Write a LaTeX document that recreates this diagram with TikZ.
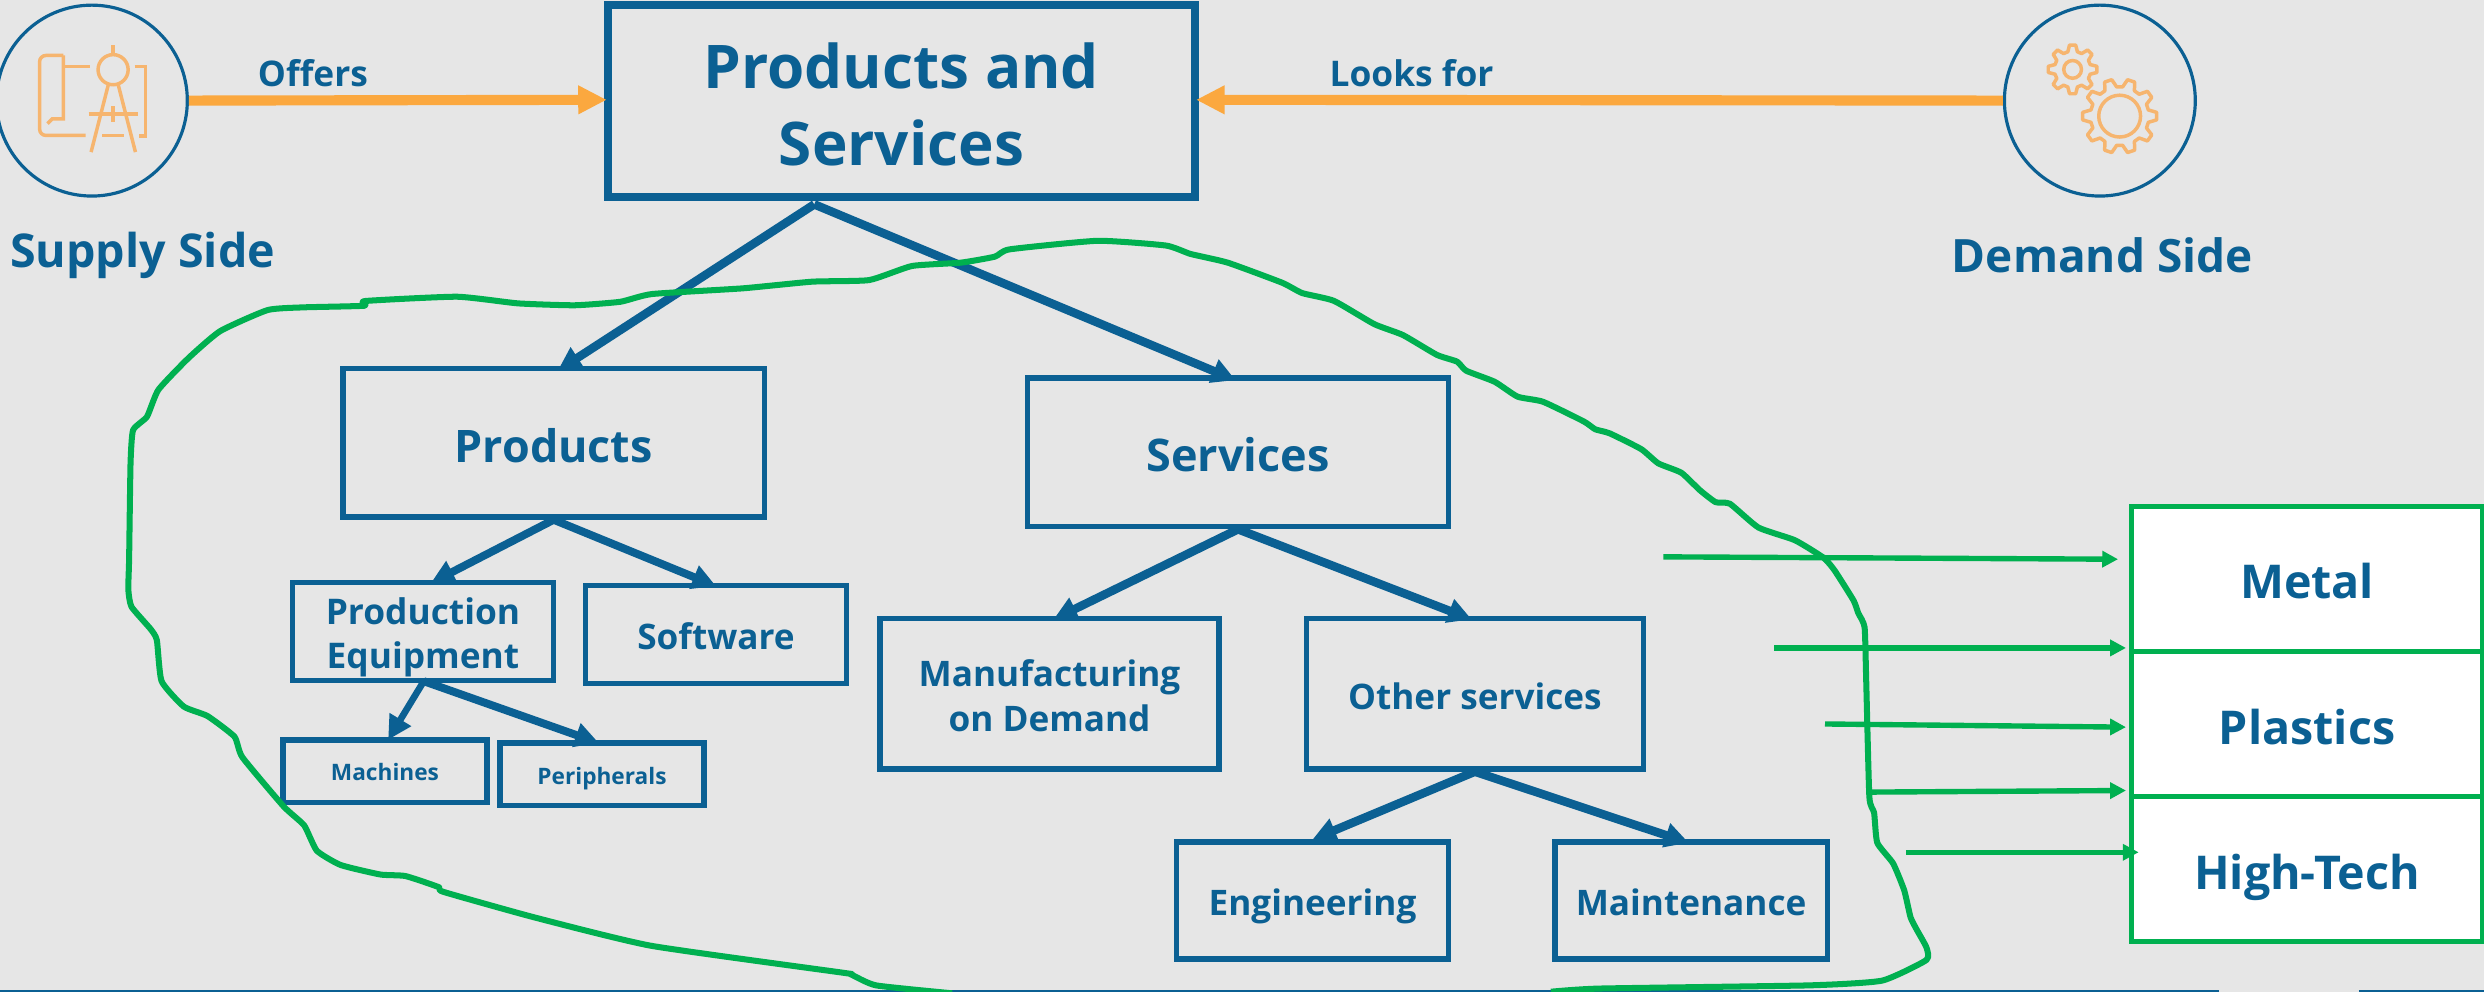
\documentclass[tikz,border=0pt]{standalone}
\usepackage{fontspec}
\setmainfont{Open Sans}
\usetikzlibrary{arrows.meta}
\definecolor{bg}{HTML}{E6E6E6}
\definecolor{navy}{HTML}{0B6093}
\definecolor{grn}{HTML}{00B050}
\definecolor{org}{HTML}{FBA83F}
\definecolor{pale}{HTML}{F6B56F}
\tikzset{
  x=1pt,y=-1pt,
  box/.style={draw=navy,line width=3.4pt,text=navy,align=center,inner sep=0pt},
  gbox/.style={draw=grn,line width=3.4pt,fill=white,text=navy,font=\bfseries\fontsize{29.4}{34}\selectfont,inner sep=0pt,minimum width=222pt,minimum height=91.6pt,anchor=center},
  lbl/.style={text=navy,inner sep=0pt,align=center},
  conn/.style={draw=navy,line width=#1,-{Triangle[length=15pt,width=15pt]}},
  oarr/.style={draw=org,line width=6.4pt,-{Triangle[length=18pt,width=17pt]}},
  garr/.style={draw=grn,line width=3.4pt,-{Triangle[length=10pt,width=10pt]}},
  circ/.style={draw=navy,line width=2pt,circle,minimum size=120.5pt,inner sep=0pt},
  ic/.style={draw=pale,line width=2.2pt},
  curve/.style={draw=grn,line width=3.8pt,line join=round}
}
% name, x1,y1,x2,y2, font size, baseline skip, text
\newcommand{\dn}{\rule{0pt}{.87em}}
\newcommand{\bx}[8]{\node[box,font=\bfseries\fontsize{#6}{#7}\selectfont,minimum width=#4pt-#2pt-1.2pt,minimum height=#5pt-#3pt-1.2pt] (#1) at ({(#2+#4)/2},{(#3+#5)/2}) {\dn#8};}
\newcommand{\nd}[1]{\raisebox{0pt}[\height][0pt]{#1}}
\begin{document}
\begin{tikzpicture}
\useasboundingbox (0,0) rectangle (1568,626);
\clip (0,0) rectangle (1568,626);
\fill[bg] (0,0) rectangle (1568,626);
% bottom edge
\draw[navy,line width=1pt] (0,625.5) -- (1401,625.5);
\draw[navy,line width=1pt] (1489,625.5) -- (1568,625.5);
% circles
\node[circ] (sup) at (58,63.5) {};
\node[circ] (dem) at (1325.5,63.5) {};
% supply icon
\draw[ic,rounded corners=4pt] (40,35) -- (25,35) -- (25,85.5) -- (54,85.5);
\draw[ic] (40,35) -- (40,75) -- (33,75) -- (30,78);
\draw[ic] (40,42) -- (57,42);
\draw[ic] (85,42) -- (92,42) -- (92,86) -- (88,86);
\draw[ic] (64.5,85.5) -- (78,85.5);
\draw[ic] (71.4,44) circle (9.5);
\draw[ic] (71.4,28.5) -- (71.4,35);
\draw[ic] (68.5,53) -- (57.5,96);
\draw[ic] (74.5,53) -- (85.5,96);
\draw[ic] (56,72) -- (87,72);
\draw[ic] (71.4,67) -- (71.4,77);
% gears
\foreach \cx/\cy/\R/\rr/\N/\hole in {1308.3/43.8/15.5/11.5/8/5.6, 1338/73.3/23.5/18.5/10/13.2}{
  \pgfmathsetmacro{\st}{360/\N}
  \draw[ic,line join=round] ({\cx+\R*cos(-.16*\st)},{\cy+\R*sin(-.16*\st)})
    \foreach \k in {1,...,\N}{
      -- ({\cx+\R*cos((\k-1+.16)*\st)},{\cy+\R*sin((\k-1+.16)*\st)})
      -- ({\cx+\rr*cos((\k-1+.34)*\st)},{\cy+\rr*sin((\k-1+.34)*\st)})
      -- ({\cx+\rr*cos((\k-1+.66)*\st)},{\cy+\rr*sin((\k-1+.66)*\st)})
      -- ({\cx+\R*cos((\k-1+.84)*\st)},{\cy+\R*sin((\k-1+.84)*\st)})
    } -- cycle;
  \draw[ic] (\cx,\cy) circle (\hole);
}
% main
\node[box,line width=5pt,minimum width=371pt,minimum height=121.4pt,font=\bfseries\fontsize{38}{49}\selectfont] (main) at (569,63.8) {\dn Products and\\Services};
% boxes
\bx{prod}{216}{232}{483}{327}{28.3}{34}{Products}
\bx{serv}{648}{238}{915}{333}{28.4}{34}{Services}
\bx{pe}{184}{367}{350}{430}{22.3}{28}{Production\\\nd{Equipment}}
\bx{soft}{369}{369}{535}{432}{22.2}{28}{Software}
\bx{mfg}{555}{390}{770}{486}{22.2}{29}{\nd{Manufacturing}\\on Demand}
\bx{other}{824}{390}{1038}{486}{22.2}{28}{Other services}
\bx{mach}{178}{466.5}{308}{507}{14.3}{18}{Machines}
\bx{peri}{315}{468.5}{445}{509}{14.3}{18}{\nd{Peripherals}}
\bx{eng}{742}{531}{915}{606}{22.2}{28}{\nd{Engineering}}
\bx{maint}{981}{531}{1154}{606}{22.2}{28}{Maintenance}
% green boxes
\node[gbox] (metal) at (1456.3,365.4) {\dn Metal};
\node[gbox] (plas) at (1456.3,457) {\dn Plastics};
\node[gbox] (tech) at (1456.3,548.6) {\dn\nd{High-Tech}};
% labels
\node[lbl,font=\bfseries\fontsize{22.3}{26}\selectfont] (off) at (197.5,46) {Offers};
\node[lbl,font=\bfseries\fontsize{22.3}{26}\selectfont] (look) at (891,46) {Looks for};
\node[lbl,font=\bfseries\fontsize{29.4}{34}\selectfont] (sups) at (90,158) {\nd{Supply Side}};
\node[lbl,font=\bfseries\fontsize{29}{34}\selectfont] (dems) at (1327,161) {Demand Side};
% orange arrows
\coordinate (ml) at (383,63);
\coordinate (mr) at (755,63);
\draw[oarr] (sup.east) -- (ml);
\draw[oarr] (dem.west) -- (mr);
% tree connectors
\coordinate (m0) at (514,129);
\coordinate (pt) at (352,234);
\coordinate (st) at (780,240);
\draw[conn=5.4pt] (m0) -- (pt);
\draw[conn=5.4pt] (m0) -- (st);
\draw[conn=5pt] (prod.south) -- (272,368);
\draw[conn=5pt] (prod.south) -- (452,370);
\draw[conn=5.4pt] (serv.south) -- (665,391);
\draw[conn=5.4pt] (serv.south) -- (929,391);
\draw[conn=5.4pt] (other.south) -- (eng.north);
\draw[conn=5.4pt] (other.south) -- (1066,532);
\coordinate (pe0) at (267.5,430);
\draw[conn=4.2pt] (pe0) -- (245,467);
\draw[conn=5pt] (pe0) -- (378,469);
% green curve
\draw[curve] plot[smooth,tension=.3] coordinates {
(601,627)(553,622)(537,615)(532,614)(411,597)(337,579)(280,563)(277,560)(256,553)(240,552)(215,546)(200,537)(192,521)(179,509)(153,478)(148,465)(131,452)(116,446)(102,430)(99,404)(95,397)(83,383)(81,372)(81.5,353)(82.4,292.5)(84,271.5)(92.8,263)(100,246)(119,226)(139,209)(169,195.7)(192,194)(230,193)(230.6,190)(288.5,187.3)(327,191.5)(362.7,192.7)(391.5,190.5)(411.6,185.6)(469,182)(512.7,177.8)(548.6,176.8)(575.7,167.9)(606.5,165.8)(628,162)(637.3,157.4)(692.8,152)(736,155)(751.5,160.3)(775,165.8)(809.4,178.5)(822,185)(842,189.9)(867.5,204.6)(885.6,211.5)(907,224)(919.8,228.3)(925.5,234)(943.5,241)(958,250.4)(974,253.6)(999.7,266)(1007,271)(1016,273.5)(1036,283.5)(1046.8,292.5)(1061.3,298.4)(1073,309.4)(1083,317)(1092,318)(1110,333)(1133,341)(1151,352)(1158,360)(1170,379)(1173,387)(1177,396)(1178,429)(1180,503)(1183,513)(1185,532)(1195,545)(1202,562)(1206,579)(1210,587)(1216,598)(1216,606)(1188,619)(1142,622)(1010,624)(979,626)};
% green arrows
\coordinate (g1) at (1050,351.5);
\coordinate (g2) at (1120,409);
\coordinate (g3) at (1152,457);
\coordinate (g4) at (1180,500);
\coordinate (g5) at (1203,538);
\draw[garr] (g1) -- (1337,353);
\draw[garr] (g2) -- (1342,409);
\draw[garr] (g3) -- (1342,459);
\draw[garr] (g4) -- (1342,499);
\draw[garr] (g5) -- (1350,538);
\end{tikzpicture}
\end{document}
